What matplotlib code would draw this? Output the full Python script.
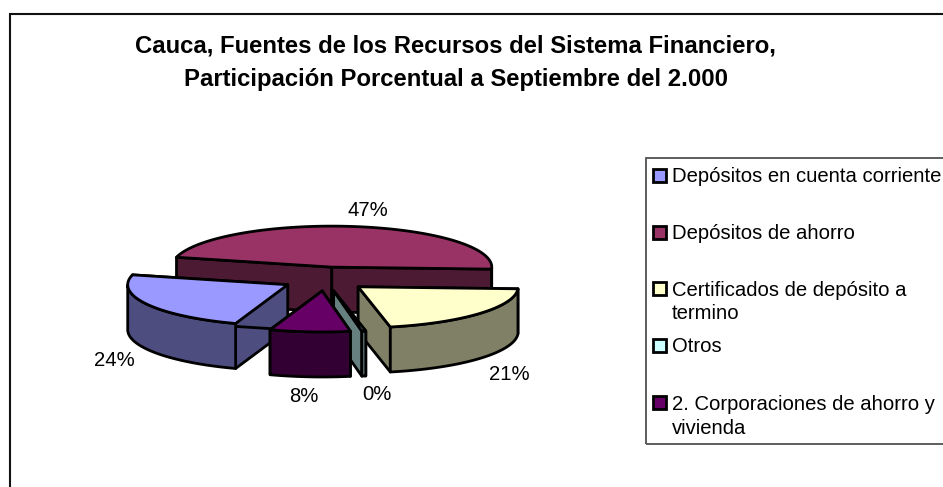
import numpy as np
import matplotlib
matplotlib.use('Agg')
import matplotlib.pyplot as plt
from matplotlib.patches import Polygon, Rectangle

plt.rcParams['font.family'] = ['Liberation Sans', 'DejaVu Sans']

# Data
labels = ['Depósitos en cuenta corriente', 'Depósitos de ahorro',
          'Certificados de depósito a\ntermino', 'Otros',
          '2. Corporaciones de ahorro y\nvivienda']
values = [23.6, 46.9, 21.0, 0.4, 8.1]
top_colors = ['#9999FF', '#993366', '#FFFFCC', '#CCFFFF', '#660066']
side_colors = ['#4D4D80', '#4D1A33', '#808066', '#668080', '#330033']
title = 'Cauca, Fuentes de los Recursos del Sistema Financiero,\nParticipación Porcentual a Septiembre del 2.000'

W, H = 943, 487
fig = plt.figure(figsize=(W / 100, H / 100), dpi=100)

# Pie lives in unit-circle coords, squashed by the axis limits
cx, cy = 325.5, 279   # pixel centre of the pie
rx, ry = 160, 41      # pixel radii
ax = fig.add_axes([0, 0, 1, 1])
ax.set_xlim((0 - cx) / rx, (W - cx) / rx)
ax.set_ylim((cy - H) / ry, cy / ry)
ax.axis('off')

depth = 45 / ry
explode_x = 43 / rx
explode_y = 12 / ry
start = 251.0


def wedge(i):
    a0 = start - sum(values[:i]) * 3.6
    a1 = a0 - values[i] * 3.6
    return a0, a1


def draw_slice(i):
    a0, a1 = wedge(i)
    mid = np.radians((a0 + a1) / 2)
    x0 = np.cos(mid) * explode_x
    y0 = np.sin(mid) * explode_y
    t = np.radians(np.linspace(a0, a1, 120))
    xs = x0 + np.cos(t)
    ys = y0 + np.sin(t)
    kw = dict(edgecolor='black', linewidth=2.0, joinstyle='round')
    # radial cut faces
    for k in (0, -1):
        face = [(x0, y0), (xs[k], ys[k]), (xs[k], ys[k] - depth), (x0, y0 - depth)]
        ax.add_patch(Polygon(face, facecolor=side_colors[i], **kw))
    # outer wall, only the part facing the viewer
    front = np.sin(t) < 0
    if front.any():
        wx, wy = xs[front], ys[front]
        wall = np.column_stack([np.r_[wx, wx[::-1]], np.r_[wy, wy[::-1] - depth]])
        ax.add_patch(Polygon(wall, facecolor=side_colors[i], **kw))
    top = np.column_stack([np.r_[x0, xs], np.r_[y0, ys]])
    ax.add_patch(Polygon(top, facecolor=top_colors[i], **kw))


for i in [1, 0, 2, 3, 4]:
    draw_slice(i)

# Percentage labels
label_pos = [(114, 361), (368, 211), (509, 374), (377, 395), (304, 396)]
for v, (px, py) in zip(values, label_pos):
    fig.text(px / W, 1 - py / H, f'{v:.0f}%', fontsize=14.6, ha='center', va='center', color='black')

# Title
fig.text(455.5 / W, 1 - 63 / H, title, fontsize=17.2, fontweight='bold', ha='center', va='center',
         linespacing=1.6)

# Chart frame, runs off the right and bottom of the picture
fig.add_artist(Rectangle((9.5 / W, 1 - 600 / H), 1000 / W, (600 - 13.5) / H, transform=fig.transFigure,
                         fill=False, edgecolor='#111111', linewidth=1.5))

# Legend box
fig.add_artist(Rectangle((645.5 / W, 1 - 443.5 / H), 400 / W, (443.5 - 157.5) / H, transform=fig.transFigure,
                         fill=False, edgecolor='#505050', linewidth=1.3))
legend_y = [175, 232, 300.5, 345, 415]
for lab, col, py in zip(labels, top_colors, legend_y):
    sy = py if '\n' not in lab else py - 12.5
    fig.add_artist(Rectangle((652.5 / W, 1 - (sy + 6.5) / H), 13 / W, 13 / H, transform=fig.transFigure,
                             facecolor=col, edgecolor='black', linewidth=2.0))
    fig.text(672 / W, 1 - (py + 1.5) / H, lab, fontsize=14.6, ha='left', va='center', linespacing=1.32)

fig.savefig('out.png', dpi=100)
